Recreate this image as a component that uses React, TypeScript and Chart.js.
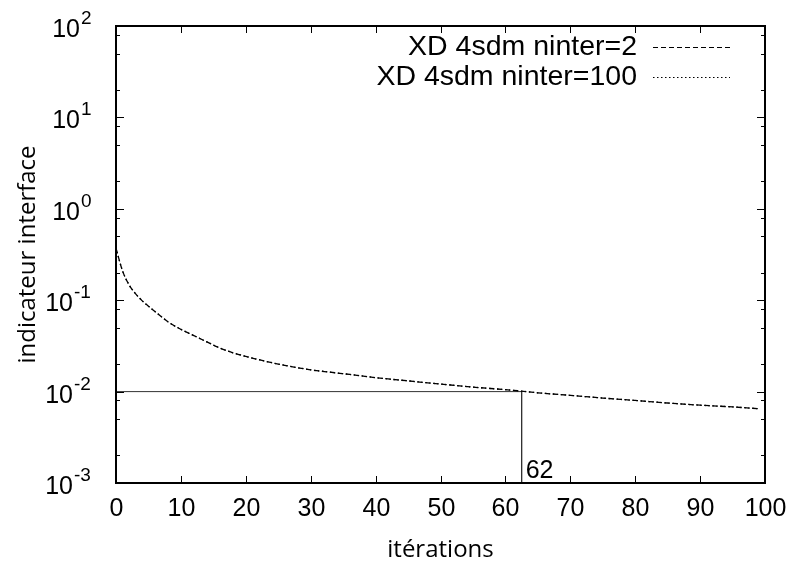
import React, { useEffect, useRef } from "react";
import { Chart, registerables } from "chart.js";

Chart.register(...registerables);

// ---- data ----
const iterations = [0, 1, 2, 3, 4, 5, 6, 7, 8, 10, 12, 14, 16, 18, 20, 23, 26, 30, 33, 36, 40, 45, 50, 55, 60, 62, 65, 70, 75, 80, 85, 90, 95, 99];
const indicNinter2 = [0.37, 0.21, 0.148, 0.118, 0.099, 0.086, 0.075, 0.066, 0.058, 0.048, 0.041, 0.035, 0.030, 0.0266, 0.0243, 0.0215, 0.0194, 0.0173, 0.0163, 0.0154, 0.0142, 0.0131, 0.0121, 0.0112, 0.0105, 0.0102, 0.0097, 0.0091, 0.0085, 0.0080, 0.0075, 0.0071, 0.0068, 0.0065];
const indicNinter100 = [0.37, 0.21, 0.148, 0.118, 0.099, 0.086, 0.075, 0.066, 0.058, 0.048, 0.041, 0.035, 0.030, 0.0266, 0.0243, 0.0215, 0.0194, 0.0173, 0.0163, 0.0154, 0.0142, 0.0131, 0.0121, 0.0112, 0.0105, 0.0102, 0.0097, 0.0091, 0.0085, 0.0080, 0.0075, 0.0071, 0.0068, 0.0065];
const seriesLabels = ["XD 4sdm ninter=2", "XD 4sdm ninter=100"];
const thresholdValue = 0.01;
const markerIteration = 62.5;
const markerLabel = "62";
const xTickValues = [0, 10, 20, 30, 40, 50, 60, 70, 80, 90, 100];
const yTickExponents = [-3, -2, -1, 0, 1, 2];
const yMinorMultipliers = [2, 5, 8];
const xTitle = "itérations";
const yTitle = "indicateur interface";

const SANS = '"Liberation Sans", Arimo, Arial, Helvetica, sans-serif';
const TICK_FONT = "25px " + SANS;
const EXP_FONT = "19px " + SANS;
const LEGEND_FONT = "28.5px " + SANS;
const TITLE_FONT = '24px "Open Sans", sans-serif';

const gnuplotPlugin = {
  id: "gnuplotDecor",
  afterDraw(chart: any) {
    const ctx = chart.ctx as CanvasRenderingContext2D;
    const xs = chart.scales.x;
    const ys = chart.scales.y;
    const a = chart.chartArea;
    ctx.save();
    ctx.strokeStyle = "#000";
    ctx.fillStyle = "#000";
    ctx.setLineDash([]);

    // frame
    ctx.lineWidth = 2;
    ctx.strokeRect(a.left, a.top, a.right - a.left, a.bottom - a.top);

    // x ticks (bottom and top mirrored) + labels
    ctx.lineWidth = 1;
    ctx.font = TICK_FONT;
    ctx.textAlign = "center";
    ctx.textBaseline = "middle";
    for (const v of xTickValues) {
      const px = Math.round(xs.getPixelForValue(v)) + 0.5;
      ctx.beginPath();
      ctx.moveTo(px, a.bottom);
      ctx.lineTo(px, a.bottom - 7);
      ctx.moveTo(px, a.top);
      ctx.lineTo(px, a.top + 7);
      ctx.stroke();
      ctx.fillText(String(v), px, a.bottom + 26);
    }

    // y ticks: majors and minors on left and right
    for (const e of yTickExponents) {
      const py = Math.round(ys.getPixelForValue(Math.pow(10, e))) + 0.5;
      ctx.beginPath();
      ctx.moveTo(a.left, py);
      ctx.lineTo(a.left + 8, py);
      ctx.moveTo(a.right, py);
      ctx.lineTo(a.right - 8, py);
      ctx.stroke();
      if (e < yTickExponents[yTickExponents.length - 1]) {
        for (const m of yMinorMultipliers) {
          const pm = Math.round(ys.getPixelForValue(m * Math.pow(10, e))) + 0.5;
          ctx.beginPath();
          ctx.moveTo(a.left, pm);
          ctx.lineTo(a.left + 4, pm);
          ctx.moveTo(a.right, pm);
          ctx.lineTo(a.right - 4, pm);
          ctx.stroke();
        }
      }
      // label 10^e
      const expStr = String(e);
      const baseRight = a.left - 36 - 7 * (expStr.length - 1);
      ctx.font = TICK_FONT;
      ctx.textAlign = "right";
      ctx.textBaseline = "middle";
      ctx.fillText("10", baseRight, py + 4);
      ctx.font = EXP_FONT;
      ctx.textAlign = "left";
      ctx.fillText(expStr, baseRight + 1, py - 8);
    }

    // marker label
    ctx.font = TICK_FONT;
    ctx.textAlign = "left";
    ctx.textBaseline = "alphabetic";
    ctx.fillText(markerLabel, xs.getPixelForValue(markerIteration) + 4, a.bottom - 5);

    // axis titles
    ctx.font = TITLE_FONT;
    ctx.textAlign = "center";
    ctx.textBaseline = "middle";
    ctx.fillText(xTitle, (a.left + a.right) / 2, a.bottom + 67);
    ctx.save();
    ctx.translate(28, (a.top + a.bottom) / 2);
    ctx.rotate(-Math.PI / 2);
    ctx.fillText(yTitle, 0, 0);
    ctx.restore();

    // legend
    const dashes = [[5, 3], [1.5, 2.5]];
    ctx.font = LEGEND_FONT;
    ctx.textAlign = "right";
    ctx.textBaseline = "middle";
    seriesLabels.forEach((lab, i) => {
      const y = a.top + 21 + i * 30;
      ctx.setLineDash([]);
      ctx.fillText(lab, a.right - 128, y);
      ctx.setLineDash(dashes[i]);
      ctx.lineWidth = 1.2;
      ctx.beginPath();
      ctx.moveTo(a.right - 112, y + 0.5);
      ctx.lineTo(a.right - 35, y + 0.5);
      ctx.stroke();
    });
    ctx.restore();
  },
};

export default function App() {
  const canvasRef = useRef<HTMLCanvasElement | null>(null);

  useEffect(() => {
    if (!canvasRef.current) return;
    const chart = new Chart(canvasRef.current, {
      type: "line",
      data: {
        datasets: [
          {
            label: seriesLabels[0],
            data: iterations.map((x, i) => ({ x, y: indicNinter2[i] })),
            borderColor: "#000",
            borderWidth: 1.3,
            borderDash: [5, 3],
            pointRadius: 0,
            cubicInterpolationMode: "monotone",
            fill: false,
          },
          {
            label: seriesLabels[1],
            data: iterations.map((x, i) => ({ x, y: indicNinter100[i] })),
            borderColor: "#000",
            borderWidth: 1.3,
            borderDash: [1.5, 2.5],
            pointRadius: 0,
            cubicInterpolationMode: "monotone",
            fill: false,
          },
          {
            label: "seuil",
            data: [
              { x: 0, y: thresholdValue },
              { x: markerIteration, y: thresholdValue },
              { x: markerIteration, y: 1e-3 },
            ],
            borderColor: "#333",
            borderWidth: 1,
            pointRadius: 0,
            tension: 0,
            fill: false,
          },
        ],
      },
      options: {
        animation: false,
        responsive: false,
        devicePixelRatio: 1,
        layout: { padding: { top: 26, right: 33, left: 0, bottom: 0 } },
        plugins: { legend: { display: false }, tooltip: { enabled: false } },
        scales: {
          x: {
            type: "linear",
            min: 0,
            max: 100,
            grid: { display: false, drawTicks: false },
            border: { display: false },
            ticks: { display: false, stepSize: 10 },
            afterFit: (s: any) => {
              s.height = 86;
            },
          },
          y: {
            type: "logarithmic",
            min: 1e-3,
            max: 1e2,
            grid: { display: false, drawTicks: false },
            border: { display: false },
            ticks: { display: false },
            afterFit: (s: any) => {
              s.width = 116;
            },
          },
        },
      },
      plugins: [gnuplotPlugin],
    } as any);
    let alive = true;
    const fonts: any = (document as any).fonts;
    if (fonts && fonts.load) {
      Promise.all([TICK_FONT, EXP_FONT, LEGEND_FONT, TITLE_FONT].map((f) => fonts.load(f).catch(() => null))).then(() => {
        if (alive) chart.update();
      });
    }
    return () => {
      alive = false;
      chart.destroy();
    };
  }, []);

  return (
    <div style={{ position: "fixed", left: 0, top: 0, width: 798, height: 569, background: "#fff" }}>
      <canvas ref={canvasRef} width={798} height={569} />
    </div>
  );
}
